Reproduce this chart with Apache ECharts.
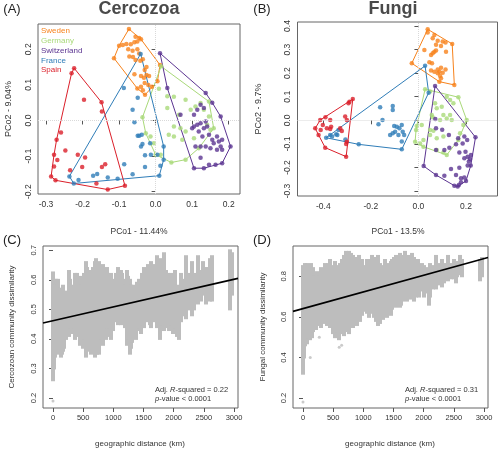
<!DOCTYPE html>
<html><head><meta charset="utf-8">
<script src="https://cdn.jsdelivr.net/npm/echarts@6/dist/echarts.min.js"></script>
<style>html,body{margin:0;padding:0;background:#fff}#c{width:500px;height:449px}</style>
</head><body><div id="c"></div>
<script>
// ---------- Data ----------
const groups = ['Sweden','Germany','Switzerland','France','Spain'];
const groupColors = ['#F7821B','#A9D979','#5B3491','#2F7DB8','#DB1F2A'];

// Panel A: Cercozoa PCoA
const cercoSweden = [[-0.073,0.257],[-0.055,0.235],[-0.045,0.232],[-0.04,0.228],[-0.1,0.21],[-0.09,0.212],[-0.08,0.215],[-0.068,0.214],[-0.058,0.22],[-0.05,0.222],[-0.075,0.2],[-0.063,0.196],[-0.05,0.2],[-0.045,0.188],[-0.114,0.175],[-0.072,0.18],[-0.062,0.178],[-0.055,0.17],[-0.042,0.168],[-0.035,0.172],[0.012,0.156],[-0.025,0.15],[-0.03,0.142],[-0.058,0.13],[-0.04,0.125],[-0.032,0.12],[-0.025,0.128],[-0.018,0.125],[-0.03,0.105],[-0.02,0.1],[-0.04,0.095],[-0.05,0.09],[-0.035,0.085],[-0.029,0.072],[-0.01,0.095],[0.005,0.11]];
const cercoGermany = [[0.015,0.152],[0.009,0.089],[0.032,0.068],[0.05,0.067],[0.082,0.058],[0.109,0.039],[0.123,0.049],[0.146,0.053],[0.096,0.03],[0.064,0.016],[-0.036,0.009],[0.05,-0.017],[0.068,-0.022],[0.082,-0.031],[0.036,-0.04],[0.05,-0.045],[0.073,-0.054],[-0.014,-0.045],[-0.005,-0.064],[0.014,-0.096],[0,-0.096],[0.043,-0.118],[0.082,-0.11],[0.105,-0.05],[0.118,-0.078],[0.15,-0.026],[0.159,-0.022],[0.146,0.011],[0.132,0.03],[0.141,-0.012],[0.032,0.035],[-0.027,-0.036]];
const cercoSwitzerland = [[0.012,0.189],[0.032,0.091],[0.137,0.077],[0.068,0.016],[0.105,0.016],[0.114,0.03],[0.123,0.044],[0.132,0.035],[0.178,0.011],[0.105,-0.017],[0.114,-0.012],[0.123,-0.008],[0.132,-0.022],[0.1,-0.022],[0.118,-0.031],[0.137,-0.003],[0.141,-0.017],[0.128,-0.045],[0.146,-0.04],[0.155,-0.054],[0.159,-0.064],[0.168,-0.045],[0.173,-0.059],[0.182,-0.054],[0.178,-0.073],[0.182,-0.082],[0.168,-0.082],[0.15,-0.078],[0.137,-0.073],[0.123,-0.073],[0.109,-0.073],[0.123,-0.105],[0.146,-0.124],[0.164,-0.124],[0.132,-0.134],[0.105,-0.134],[0.205,-0.073],[0.182,-0.12],[0.155,0.05]];
const cercoFrance = [[-0.041,0.187],[-0.087,0.091],[-0.049,0.064],[-0.063,0.03],[-0.058,-0.005],[-0.049,-0.043],[-0.045,-0.043],[-0.038,-0.04],[-0.04,-0.073],[-0.036,-0.066],[-0.015,-0.064],[-0.029,-0.098],[-0.013,-0.096],[0.005,-0.096],[0.022,-0.073],[0.022,-0.11],[0.013,-0.127],[-0.029,-0.131],[0.01,-0.155],[-0.086,-0.123],[-0.063,-0.151],[-0.104,-0.164],[-0.131,-0.16],[-0.16,-0.15],[-0.171,-0.155],[-0.211,-0.167],[-0.236,-0.157],[-0.224,-0.177]];
const cercoSpain = [[-0.223,0.147],[-0.23,0.133],[-0.196,0.058],[-0.148,0.051],[-0.147,0.025],[-0.259,-0.034],[-0.271,-0.054],[-0.247,-0.084],[-0.278,-0.096],[-0.269,-0.111],[-0.213,-0.096],[-0.193,-0.104],[-0.278,-0.129],[-0.201,-0.131],[-0.234,-0.14],[-0.286,-0.157],[-0.274,-0.168],[-0.147,-0.131],[-0.138,-0.123],[-0.162,-0.177],[-0.131,-0.194],[-0.084,-0.183]];

// Panel B: Fungi PCoA
const fungiSweden = [[0.039,0.386],[0.039,0.372],[0.067,0.362],[0.06,0.348],[0.081,0.338],[0.102,0.334],[0.114,0.33],[0.142,0.324],[0.025,0.298],[0.074,0.32],[0.095,0.315],[0.067,0.291],[0.074,0.296],[0.116,0.291],[0.053,0.277],[0.06,0.284],[-0.028,0.242],[0.046,0.246],[0.057,0.242],[0.095,0.223],[0.114,0.216],[0.081,0.216],[0.088,0.206],[0.053,0.211],[0.067,0.206],[0.102,0.202],[0.091,0.188],[0.095,0.178],[0.088,0.164],[0.151,0.15],[0.081,0.2]];
const fungiGermany = [[0.028,0.132],[0.049,0.122],[0.119,0.1],[0.168,0.098],[0.133,0.086],[0.147,0.072],[0.07,0.072],[0.098,0.058],[0.077,0.051],[0.105,0.023],[0.133,0.023],[0.091,0.001],[0.119,0.008],[0.14,0.001],[0.203,0.001],[0.189,-0.02],[0.056,0.023],[0.06,0.013],[-0.007,-0.024],[-0.01,-0.041],[0.014,-0.02],[0.049,-0.041],[0.063,-0.044],[0.021,-0.083],[0.007,-0.098],[-0.014,-0.091],[0.049,-0.062],[0.077,-0.076],[0.105,-0.069],[0.077,-0.126],[0.105,-0.137],[0.021,-0.112],[0.119,-0.147],[0.168,-0.083],[0.175,-0.055]];
const fungiSwitzerland = [[0.07,0.146],[0.071,0.006],[0.074,-0.034],[0.128,-0.062],[0.167,-0.076],[0.193,-0.069],[0.205,-0.083],[0.24,-0.072],[0.186,-0.098],[0.158,-0.102],[0.13,-0.116],[0.074,-0.126],[0.109,-0.126],[0.172,-0.136],[0.198,-0.133],[0.193,-0.161],[0.207,-0.154],[0.221,-0.147],[0.217,-0.164],[0.212,-0.175],[0.22,-0.192],[0.207,-0.192],[0.172,-0.201],[0.137,-0.206],[0.074,-0.232],[0.109,-0.235],[0.158,-0.232],[0.179,-0.246],[0.193,-0.243],[0.2,-0.257],[0.179,-0.263],[0.17,-0.274],[0.151,-0.277],[0.165,-0.281],[0.022,-0.194],[0.1,-0.04]];
const fungiFrance = [[0.028,0.231],[0.043,0.117],[-0.108,0.061],[-0.108,0.044],[-0.161,0.055],[-0.151,0.001],[-0.168,-0.017],[-0.102,-0.024],[-0.091,-0.027],[-0.098,-0.048],[-0.08,-0.034],[-0.07,-0.02],[-0.066,-0.048],[-0.06,-0.062],[-0.084,-0.062],[-0.119,-0.062],[-0.108,-0.055],[-0.07,-0.09],[-0.07,-0.123],[-0.251,-0.102],[-0.388,-0.074],[-0.363,-0.069],[-0.371,-0.062],[-0.346,-0.059],[-0.341,-0.062],[-0.307,-0.081],[-0.336,-0.041]];
const fungiSpain = [[-0.276,0.09],[-0.29,0.079],[-0.294,0.072],[-0.391,0.013],[-0.413,0.001],[-0.434,-0.034],[-0.371,0.001],[-0.402,-0.02],[-0.411,-0.041],[-0.385,-0.034],[-0.371,-0.037],[-0.367,-0.027],[-0.308,0.016],[-0.301,0.001],[-0.329,-0.034],[-0.322,-0.045],[-0.42,-0.062],[-0.392,-0.116],[-0.301,-0.091],[-0.304,-0.1],[-0.304,-0.154]];

// Panel C/D: strips of pairwise dissimilarity vs distance [km, low, high]
const cercoStrips = [[0,0.26,0.625],[15,0.30,0.60],[30,0.34,0.58],[50,0.36,0.60],[70,0.35,0.58],[90,0.38,0.60],[110,0.36,0.57],[130,0.34,0.55],[150,0.35,0.56],[170,0.36,0.58],[190,0.37,0.54],[210,0.40,0.55],[240,0.43,0.56],[260,0.41,0.63],[280,0.44,0.60],[310,0.42,0.55],[340,0.44,0.58],[370,0.40,0.62],[400,0.41,0.62],[420,0.43,0.60],[440,0.38,0.61],[470,0.42,0.58],[500,0.37,0.59],[520,0.40,0.62],[550,0.34,0.66],[570,0.37,0.64],[590,0.36,0.62],[610,0.38,0.60],[630,0.35,0.63],[650,0.36,0.60],[670,0.37,0.64],[690,0.34,0.66],[710,0.36,0.67],[730,0.35,0.65],[750,0.38,0.63],[770,0.35,0.66],[790,0.40,0.62],[810,0.42,0.64],[830,0.38,0.65],[850,0.42,0.61],[870,0.40,0.63],[890,0.44,0.64],[910,0.41,0.62],[930,0.44,0.60],[960,0.40,0.62],[990,0.43,0.60],[1050,0.46,0.62],[1070,0.45,0.64],[1090,0.47,0.63],[1110,0.46,0.61],[1130,0.45,0.63],[1150,0.48,0.62],[1170,0.46,0.60],[1200,0.44,0.58],[1230,0.38,0.63],[1250,0.40,0.61],[1270,0.35,0.60],[1290,0.37,0.58],[1310,0.39,0.56],[1340,0.42,0.58],[1370,0.40,0.56],[1390,0.43,0.59],[1420,0.44,0.60],[1450,0.42,0.58],[1480,0.45,0.62],[1510,0.44,0.64],[1540,0.46,0.62],[1570,0.47,0.65],[1600,0.45,0.63],[1630,0.44,0.66],[1660,0.46,0.64],[1690,0.48,0.65],[1720,0.44,0.68],[1750,0.47,0.64],[1780,0.40,0.67],[1810,0.45,0.66],[1840,0.43,0.69],[1870,0.46,0.63],[1900,0.44,0.62],[1930,0.43,0.60],[1960,0.45,0.62],[1990,0.42,0.61],[2020,0.44,0.63],[2060,0.41,0.58],[2090,0.40,0.56],[2120,0.46,0.62],[2150,0.48,0.60],[2200,0.47,0.68],[2240,0.50,0.62],[2300,0.48,0.66],[2340,0.50,0.62],[2400,0.52,0.68],[2450,0.53,0.63],[2490,0.55,0.66],[2530,0.52,0.62],[2560,0.55,0.64],[2600,0.53,0.67],[2640,0.53,0.68],[2930,0.50,0.70],[2960,0.55,0.69]];
const cercoOutliers = [[0,0.19]];
const cercoFit = [[-166,0.454],[3066,0.605]];

const fungiStrips = [[0,0.32,0.85],[15,0.40,0.84],[30,0.46,0.86],[50,0.48,0.85],[70,0.47,0.86],[90,0.50,0.84],[110,0.49,0.83],[130,0.52,0.86],[150,0.50,0.82],[170,0.53,0.84],[190,0.55,0.80],[210,0.54,0.78],[240,0.56,0.82],[270,0.58,0.80],[300,0.55,0.84],[330,0.57,0.82],[360,0.60,0.86],[390,0.56,0.84],[420,0.58,0.86],[450,0.55,0.88],[480,0.57,0.85],[500,0.52,0.83],[530,0.50,0.87],[560,0.53,0.85],[590,0.49,0.84],[620,0.52,0.86],[650,0.54,0.88],[680,0.51,0.90],[710,0.53,0.92],[740,0.55,0.91],[770,0.52,0.92],[800,0.56,0.91],[830,0.55,0.90],[860,0.58,0.89],[890,0.56,0.87],[920,0.60,0.90],[950,0.58,0.86],[980,0.61,0.88],[1030,0.63,0.85],[1060,0.62,0.88],[1090,0.60,0.86],[1120,0.64,0.88],[1150,0.62,0.90],[1180,0.60,0.87],[1210,0.58,0.89],[1240,0.56,0.90],[1270,0.57,0.86],[1300,0.60,0.85],[1330,0.59,0.84],[1360,0.62,0.88],[1390,0.60,0.86],[1420,0.63,0.85],[1450,0.61,0.87],[1480,0.64,0.88],[1510,0.66,0.89],[1540,0.65,0.90],[1570,0.67,0.88],[1600,0.65,0.91],[1630,0.66,0.87],[1660,0.68,0.90],[1690,0.70,0.92],[1720,0.68,0.88],[1750,0.70,0.90],[1780,0.69,0.87],[1810,0.72,0.91],[1840,0.68,0.89],[1870,0.70,0.86],[1900,0.72,0.88],[1930,0.70,0.85],[1970,0.73,0.86],[2000,0.70,0.85],[2040,0.72,0.84],[2080,0.66,0.82],[2110,0.70,0.86],[2150,0.74,0.85],[2200,0.74,0.90],[2240,0.76,0.86],[2300,0.75,0.88],[2340,0.77,0.86],[2400,0.78,0.90],[2450,0.79,0.86],[2500,0.79,0.88],[2530,0.77,0.84],[2560,0.80,0.87],[2600,0.81,0.90],[2640,0.80,0.88],[2930,0.78,0.88],[2960,0.80,0.89]];
const fungiOutliers = [[0,0.18],[120,0.40],[270,0.50],[600,0.45],[640,0.46]];
const fungiFit = [[-166,0.627],[3066,0.892]];

// tick values
const ticksAx = [-0.3,-0.2,-0.1,0.0,0.1,0.2];
const ticksAy = [-0.2,-0.1,0.0,0.1,0.2];
const ticksBx = [-0.4,-0.2,0.0,0.2];
const ticksBy = [-0.3,-0.2,-0.1,0.0,0.1,0.2,0.3,0.4];
const ticksDist = [0,500,1000,1500,2000,2500,3000];
const ticksCy = [0.2,0.3,0.4,0.5,0.6,0.7];
const ticksDy = [0.2,0.4,0.6,0.8];

// ---------- Helpers ----------
const FONT = 'Liberation Sans, Arial, Helvetica, sans-serif';
function hull(pts){
  const p = pts.slice().sort((a,b)=>a[0]-b[0]||a[1]-b[1]);
  const cross=(o,a,b)=>(a[0]-o[0])*(b[1]-o[1])-(a[1]-o[1])*(b[0]-o[0]);
  const lo=[],up=[];
  for(const q of p){while(lo.length>=2&&cross(lo[lo.length-2],lo[lo.length-1],q)<=0)lo.pop();lo.push(q);}
  for(let i=p.length-1;i>=0;i--){const q=p[i];while(up.length>=2&&cross(up[up.length-2],up[up.length-1],q)<=0)up.pop();up.push(q);}
  up.pop();lo.pop();
  const h=lo.concat(up);h.push(h[0]);return h;
}
const fmt1 = v => (Math.abs(v)<1e-9?'0.0':v.toFixed(1));
function valAxis(gi,min,max,ticks,isY,fmt,fs){
  return {
    type:'value', gridIndex:gi, min:min, max:max, scale:true,
    axisLine:{show:false}, splitLine:{show:false},
    axisTick:{show:true, length:4, inside:false, lineStyle:{color:'#555'}, customValues:ticks},
    axisLabel:{show:true, customValues:ticks, formatter:fmt, fontSize:fs, color:'#333', fontFamily:FONT,
      rotate: isY?90:0, margin: isY?5:6}
  };
}
const grids = [
  {left:38, top:24, width:202, height:170},
  {left:297.5, top:22, width:200, height:174},
  {left:43, top:246, width:195, height:162},
  {left:293, top:246, width:195, height:162}
].map(g=>Object.assign(g,{show:true, borderColor:'#666', borderWidth:1, backgroundColor:'transparent', containLabel:false}));

const xAxes = [
  valAxis(0,-0.3219,0.2309,ticksAx,false,fmt1,8.5),
  valAxis(1,-0.5085,0.3325,ticksBx,false,fmt1,8.5),
  valAxis(2,-166,3066,ticksDist,false,v=>String(v),7.5),
  valAxis(3,-166,3066,ticksDist,false,v=>String(v),7.5)
];
const yAxes = [
  valAxis(0,-0.2065,0.271,ticksAy,true,fmt1,8.5),
  valAxis(1,-0.321,0.417,ticksBy,true,fmt1,8.5),
  valAxis(2,0.166,0.7146,ticksCy,true,fmt1,7.5),
  valAxis(3,0.151,0.949,ticksDy,true,fmt1,7.5)
];

const series = [];
function zeroLines(gi){
  series.push({type:'line', xAxisIndex:gi, yAxisIndex:gi, data:[], silent:true,
    markLine:{silent:true, symbol:'none', label:{show:false}, animation:false,
      lineStyle:{color:'#d9d9d9', type:'dotted', width:1}, data:[{xAxis:0},{yAxis:0}]}});
}
function pcoa(gi, sets){
  zeroLines(gi);
  sets.forEach((pts,k)=>{
    series.push({type:'line', xAxisIndex:gi, yAxisIndex:gi, data:hull(pts), showSymbol:false, symbol:'none',
      lineStyle:{color:groupColors[k], width:1}, z:2, animation:false, silent:true});
    series.push({type:'scatter', xAxisIndex:gi, yAxisIndex:gi, data:pts, symbol:'circle', symbolSize:4.5,
      itemStyle:{color:groupColors[k]}, z:3, animation:false, silent:true});
  });
}
pcoa(0,[cercoSweden,cercoGermany,cercoSwitzerland,cercoFrance,cercoSpain]);
pcoa(1,[fungiSweden,fungiGermany,fungiSwitzerland,fungiFrance,fungiSpain]);

function distPanel(gi, strips, outl, fit){
  series.push({type:'custom', xAxisIndex:gi, yAxisIndex:gi, data:strips, clip:true, animation:false, silent:true,
    renderItem:(params,api)=>{
      const x=api.value(0), lo=api.value(1), hi=api.value(2);
      const a=api.coord([x,hi]), b=api.coord([x,lo]);
      return {type:'rect', shape:{x:Math.round(a[0]-2), y:a[1]-1, width:4, height:b[1]-a[1]+2}, style:{fill:'#BDBDBD'}};
    }});
  series.push({type:'scatter', xAxisIndex:gi, yAxisIndex:gi, data:outl, symbolSize:3, itemStyle:{color:'#BDBDBD'}, animation:false, silent:true});
  series.push({type:'line', xAxisIndex:gi, yAxisIndex:gi, data:fit, symbol:'none', clip:true,
    lineStyle:{color:'#000', width:1.6}, z:5, animation:false, silent:true});
}
distPanel(2,cercoStrips,cercoOutliers,cercoFit);
distPanel(3,fungiStrips,fungiOutliers,fungiFit);

// ---------- Text ----------
function txt(x,y,text,opt){
  return Object.assign({type:'text', x:x, y:y, silent:true,
    style:Object.assign({text:text, fill:'#333', font:'9px '+FONT, textAlign:'center', textVerticalAlign:'middle'}, opt||{})});
}
function rtxt(x,y,text,opt){
  const t = txt(x,y,text,opt); t.rotation = Math.PI/2; return t;
}
const graphic = [
  txt(12,9,'(A)',{font:'13px '+FONT, fill:'#222'}),
  txt(139,9,'Cercozoa',{font:'bold 18px '+FONT, fill:'#4a4a4a'}),
  txt(262,9,'(B)',{font:'13px '+FONT, fill:'#222'}),
  txt(393,9,'Fungi',{font:'bold 18px '+FONT, fill:'#4a4a4a'}),
  rtxt(9,109,'PCo2 - 9.04%'),
  rtxt(259,109,'PCo2 - 9.7%'),
  txt(139,232,'PCo1 - 11.44%',{font:'8.5px '+FONT}),
  txt(398,232,'PCo1 - 13.5%',{font:'8.5px '+FONT}),
  txt(12,240,'(C)',{font:'13px '+FONT, fill:'#222'}),
  txt(262,240,'(D)',{font:'13px '+FONT, fill:'#222'}),
  rtxt(12,327,'Cercozoan community dissimilarity',{font:'8px '+FONT}),
  rtxt(263,327,'Fungal community dissimilarity',{font:'8px '+FONT}),
  txt(140,444,'geographic distance (km)',{font:'8px '+FONT}),
  txt(390,444,'geographic distance (km)',{font:'8px '+FONT})
];
groups.forEach((g,k)=>{
  graphic.push(txt(41,31+k*9.8,g,{font:'8px '+FONT, fill:groupColors[k], textAlign:'left'}));
});
const richStyle = {n:{font:'7.5px '+FONT, fill:'#333'}, i:{font:'italic 7.5px '+FONT, fill:'#333'}};
function annot(x,r2){
  graphic.push({type:'text', x:x, y:390, silent:true, style:{text:'{n|Adj. }{i|R}{n|-squared = '+r2+'}', rich:richStyle, textAlign:'left', textVerticalAlign:'middle'}});
  graphic.push({type:'text', x:x, y:398.5, silent:true, style:{text:'{i|p}{n|-value < 0.0001}', rich:richStyle, textAlign:'left', textVerticalAlign:'middle'}});
}
annot(155,'0.22');
annot(405,'0.31');

const chart = echarts.init(document.getElementById('c'), null, {renderer:'canvas'});
chart.setOption({animation:false, backgroundColor:'#fff', grid:grids, xAxis:xAxes, yAxis:yAxes, series:series, graphic:graphic});
</script></body></html>
